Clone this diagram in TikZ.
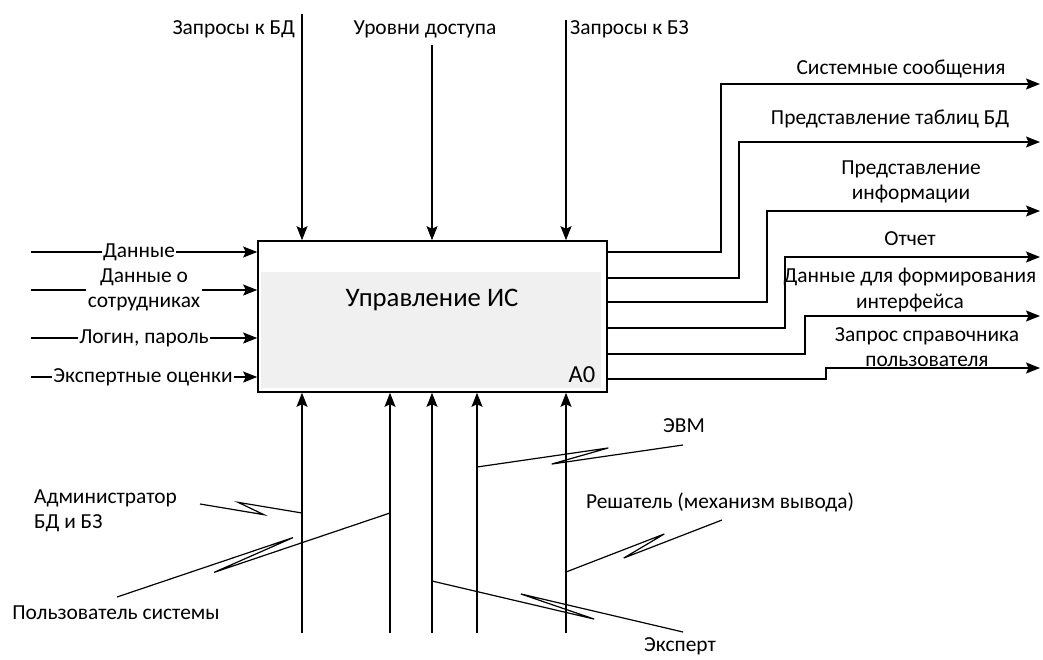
\documentclass[tikz,border=0pt]{standalone}
\usepackage{fontspec}
\setmainfont{Carlito}
\usetikzlibrary{calc, arrows.meta, positioning}

\begin{document}
\begin{tikzpicture}[
    x=1pt, y=-1pt,
    >={Stealth[length=14pt, width=11pt, inset=2.5pt]},
    idef_arrow/.style={draw=black, line width=1.3pt, ->},
    tunnel_line/.style={draw=black, line width=1.2pt},
    % Функциональный блок
    func_box/.style={rectangle, draw=black, line width=1.6pt, fill=white, minimum width=349pt, minimum height=151pt, inner sep=0pt},
    box_shade/.style={fill=black!6},
    title_text/.style={inner sep=0pt, font=\fontsize{26.7}{32}\selectfont},
    num_text/.style={inner sep=0pt, font=\fontsize{24.5}{29}\selectfont},
    % Подписи стрелок
    in_label/.style={fill=white, inner sep=1.5pt, align=center, font=\fontsize{21.4}{25.5}\selectfont},
    out_label/.style={inner sep=0pt, align=center, font=\fontsize{21.4}{25.5}\selectfont},
    mech_label/.style={inner sep=0pt, align=left, font=\fontsize{21.4}{25.5}\selectfont},
    % Разрыв (туннель) механизма
    zigzag/.style n args={4}{to path={-- ($(\tikztostart)!#1!(\tikztotarget)!5pt!#3:(\tikztotarget)$) -- ($(\tikztostart)!#2!(\tikztotarget)!5pt!#4:(\tikztotarget)$) -- (\tikztotarget)}}
]
    \useasboundingbox (0, 0) rectangle (1043, 659);

    % =========================================================================
    % БЛОК A0
    % =========================================================================
    \node [func_box] (box) at (432.5, 316.5) {};
    \fill [box_shade] ($(box.north west)+(4,32)$) rectangle ($(box.south east)+(-7,-5)$);
    \node [title_text] (title) at (432, 300) {Управление ИС};
    \node [num_text] (num) at (582, 375) {A0};

    % =========================================================================
    % УПРАВЛЕНИЕ (сверху)
    % =========================================================================
    \coordinate (c1) at (302, 14);
    \coordinate (c2) at (432, 45);
    \coordinate (c3) at (566, 20);
    \draw [idef_arrow] (c1) -- (c1 |- box.north);
    \draw [idef_arrow] (c2) -- (c2 |- box.north);
    \draw [idef_arrow] (c3) -- (c3 |- box.north);
    \node [out_label, anchor=east] (c1_lbl) at (295, 29) {Запросы к БД};
    \node [out_label] (c2_lbl) at (425, 29) {Уровни доступа};
    \node [out_label, anchor=west] (c3_lbl) at (570, 29) {Запросы к БЗ};

    % =========================================================================
    % ВХОДЫ (слева)
    % =========================================================================
    \coordinate (i1) at (31, 252);
    \coordinate (i2) at (31, 290);
    \coordinate (i3) at (31, 338);
    \coordinate (i4) at (31, 377);
    \draw [idef_arrow] (i1) -- (i1 -| box.west);
    \draw [idef_arrow] (i2) -- (i2 -| box.west);
    \draw [idef_arrow] (i3) -- (i3 -| box.west);
    \draw [idef_arrow] (i4) -- (i4 -| box.west);
    \node [in_label] (i1_lbl) at (139, 252) {Данные};
    \node [in_label] (i2_lbl) at (144, 290) {Данные о\\сотрудниках};
    \node [in_label] (i3_lbl) at (144, 338) {Логин, пароль};
    \node [in_label] (i4_lbl) at (143, 377) {Экспертные оценки};

    % =========================================================================
    % ВЫХОДЫ (справа)
    % =========================================================================
    \coordinate (o1) at (1040, 84);
    \coordinate (o2) at (1040, 142);
    \coordinate (o3) at (1040, 211);
    \coordinate (o4) at (1040, 257);
    \coordinate (o5) at (1040, 316);
    \coordinate (o6) at (1040, 368);
    \draw [idef_arrow] (box.east |- 0,252) -- (721, 252) |- (o1);
    \draw [idef_arrow] (box.east |- 0,278) -- (739, 278) |- (o2);
    \draw [idef_arrow] (box.east |- 0,302) -- (767, 302) |- (o3);
    \draw [idef_arrow] (box.east |- 0,328) -- (785, 328) |- (o4);
    \draw [idef_arrow] (box.east |- 0,354) -- (805, 354) |- (o5);
    \draw [idef_arrow] (box.east |- 0,379) -- (826, 379) |- (o6);
    \node [out_label] (o1_lbl) at (901, 69) {Системные сообщения};
    \node [out_label] (o2_lbl) at (890, 119) {Представление таблиц БД};
    \node [out_label] (o3_lbl) at (911, 182) {Представление\\информации};
    \node [out_label] (o4_lbl) at (910, 239) {Отчет};
    \node [out_label] (o5_lbl) at (910, 290) {Данные для формирования\\интерфейса};
    \node [out_label] (o6_lbl) at (927, 347) {Запрос справочника\\пользователя};

    % =========================================================================
    % МЕХАНИЗМЫ (снизу)
    % =========================================================================
    \coordinate (m1) at (302, 633);
    \coordinate (m2) at (390, 633);
    \coordinate (m3) at (432, 633);
    \coordinate (m4) at (477, 633);
    \coordinate (m5) at (566, 633);
    \draw [idef_arrow] (m1) -- (m1 |- box.south);
    \draw [idef_arrow] (m2) -- (m2 |- box.south);
    \draw [idef_arrow] (m3) -- (m3 |- box.south);
    \draw [idef_arrow] (m4) -- (m4 |- box.south);
    \draw [idef_arrow] (m5) -- (m5 |- box.south);

    \node [mech_label, anchor=west] (admin) at (34, 511) {Администратор\\БД и БЗ};
    \node [mech_label] (user) at (116, 613) {Пользователь системы};
    \node [mech_label] (evm) at (684, 426) {ЭВМ};
    \node [mech_label] (solver) at (720, 502) {Решатель (механизм вывода)};
    \node [mech_label] (expert) at (680, 646) {Эксперт};

    % точки отвода от механизмов
    \coordinate (admin_tap) at (302, 513);
    \coordinate (user_tap) at (390, 513);
    \coordinate (expert_tap) at (432, 581);
    \coordinate (evm_tap) at (477, 467);
    \coordinate (solver_tap) at (566, 572);
    % свободные концы у подписей
    \coordinate (admin_end) at (200, 504);
    \coordinate (user_end) at (117, 597);
    \coordinate (evm_end) at (683, 445);
    \coordinate (solver_end) at (722, 520);
    \coordinate (expert_end) at (683, 632);

    \draw [tunnel_line] (admin_end) to[zigzag={0.63}{0.37}{-90}{90}] (admin_tap);
    \draw [tunnel_line] (user_end) to[zigzag={0.65}{0.35}{90}{-90}] (user_tap);
    \draw [tunnel_line] (evm_tap) to[zigzag={0.64}{0.36}{90}{-90}] (evm_end);
    \draw [tunnel_line] (solver_tap) to[zigzag={0.64}{0.36}{90}{-90}] (solver_end);
    \draw [tunnel_line] (expert_tap) to[zigzag={0.65}{0.35}{-90}{90}] (expert_end);
\end{tikzpicture}
\end{document}
